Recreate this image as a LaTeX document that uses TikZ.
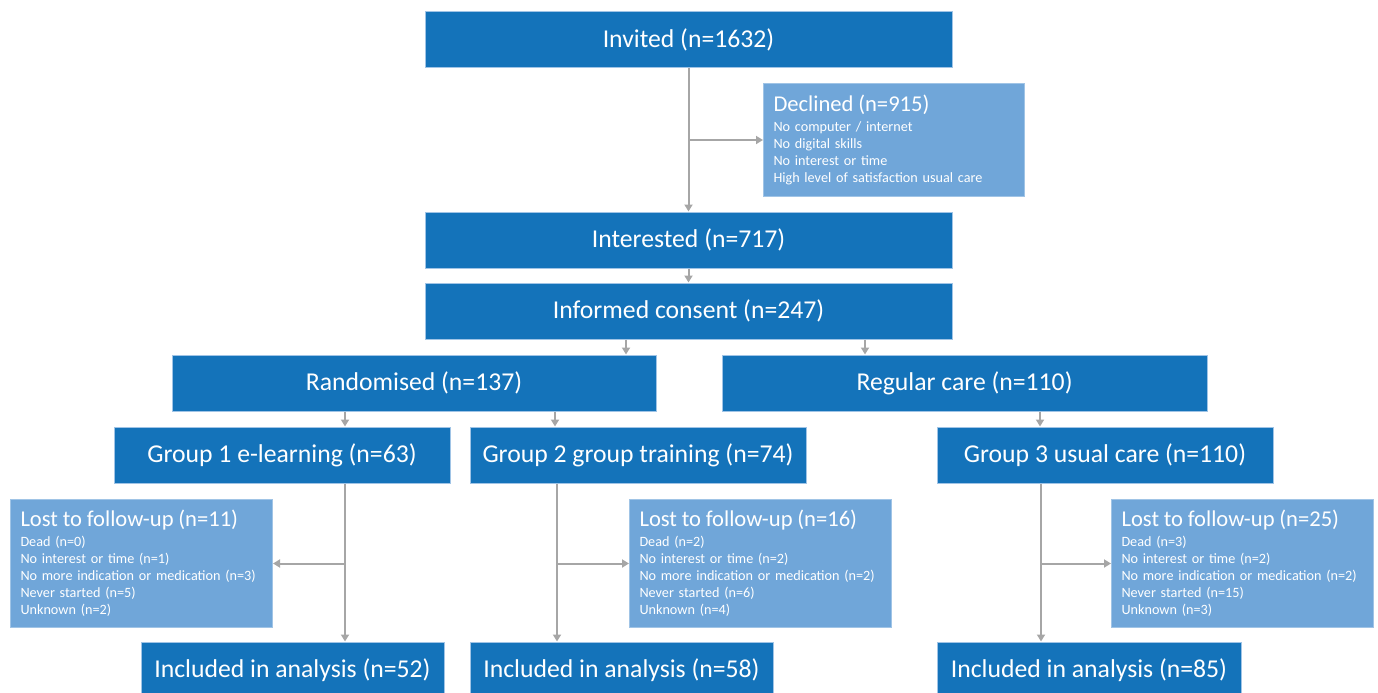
\documentclass[tikz,border=0pt]{standalone}
\usepackage{fontspec}
\setmainfont{Carlito}
\usetikzlibrary{arrows.meta}
\definecolor{boxblue}{RGB}{20,115,186}
\definecolor{noteblue}{RGB}{112,166,217}
\definecolor{edgeblue}{RGB}{160,196,230}
\definecolor{flowgray}{RGB}{166,166,166}
\tikzset{
    mainbox/.style={fill=boxblue, draw=edgeblue, line width=1pt, text=white,
        minimum height=56pt, inner sep=0pt, font=\fontsize{25.7}{30}\selectfont},
    notebox/.style={fill=noteblue, draw=edgeblue, line width=1pt, text=white,
        anchor=north west, align=left, inner xsep=10pt, inner ysep=0pt,
        font=\fontsize{14.2}{17}\selectfont},
    flow/.style={flowgray, line width=2pt},
    flowarrow/.style={flow, -{Triangle[width=8pt,length=7pt]}}
}
\newcommand{\notetitle}[1]{{\fontsize{22.6}{26}\selectfont #1}\\[3pt]}
\begin{document}
\begin{tikzpicture}[x=1pt, y=-1pt]
        \useasboundingbox (0,0) rectangle (1378,693);
        \clip (0,0) rectangle (1378,693);
        \coordinate (xa) at (626,0);
        \coordinate (xb) at (865,0);
        \coordinate (xc) at (345,0);
        \coordinate (xd) at (555,0);
        \coordinate (xe) at (1040,0);
        \coordinate (xf) at (557,0);
        \coordinate (xg) at (1041,0);
        \node (inv) [mainbox, minimum width=527pt] at (688.5,40) {Invited (n=1632)};
        \node (dec) [notebox, minimum height=113pt, text width=241pt] at (763,83)
            {\notetitle{Declined (n=915)}No computer / internet\\No digital skills\\No interest or time\\High level of satisfaction usual care};
        \node (int) [mainbox, minimum width=527pt] at (688.5,240) {Interested (n=717)};
        \node (inf) [mainbox, minimum width=527pt] at (688.5,311) {Informed consent (n=247)};
        \node (rand) [mainbox, minimum width=484pt] at (414,383) {Randomised (n=137)};
        \node (reg) [mainbox, minimum width=485pt] at (964.5,383) {Regular care (n=110)};
        \node (g1) [mainbox, minimum width=336pt] at (282,455) {Group 1 e-learning (n=63)};
        \node (g2) [mainbox, minimum width=336pt] at (638,455) {Group 2 group training (n=74)};
        \node (g3) [mainbox, minimum width=336pt] at (1105,455) {Group 3 usual care (n=110)};
        \node (lost1) [notebox, minimum height=128pt, text width=242pt] at (10,499)
            {\notetitle{Lost to follow-up (n=11)}Dead (n=0)\\No interest or time (n=1)\\No more indication or medication (n=3)\\Never started (n=5)\\Unknown (n=2)};
        \node (lost2) [notebox, minimum height=128pt, text width=242pt] at (629,499)
            {\notetitle{Lost to follow-up (n=16)}Dead (n=2)\\No interest or time (n=2)\\No more indication or medication (n=2)\\Never started (n=6)\\Unknown (n=4)};
        \node (lost3) [notebox, minimum height=128pt, text width=242pt] at (1111,499)
            {\notetitle{Lost to follow-up (n=25)}Dead (n=3)\\No interest or time (n=2)\\No more indication or medication (n=2)\\Never started (n=15)\\Unknown (n=3)};
        \node (inc1) [mainbox, minimum width=303pt] at (292.5,670) {Included in analysis (n=52)};
        \node (inc2) [mainbox, minimum width=303pt] at (621.5,670) {Included in analysis (n=58)};
        \node (inc3) [mainbox, minimum width=304pt] at (1089,670) {Included in analysis (n=85)};
        \draw 
            [flowarrow] (inv) -- (int);
        \draw 
            [flowarrow] (inv.south |- dec.west) -- (dec.west);
        \draw 
            [flowarrow] (int) -- (inf);
        \draw 
            [flowarrow] (inf.south -| xa) -- (rand.north -| xa);
        \draw 
            [flowarrow] (inf.south -| xb) -- (reg.north -| xb);
        \draw 
            [flowarrow] (rand.south -| xc) -- (g1.north -| xc);
        \draw 
            [flowarrow] (rand.south -| xd) -- (g2.north -| xd);
        \draw 
            [flowarrow] (reg.south -| xe) -- (g3.north -| xe);
        \draw 
            [flowarrow] (g1.south -| xc) -- (inc1.north -| xc);
        \draw 
            [flowarrow] (xc |- lost1.east) -- (lost1.east);
        \draw 
            [flowarrow] (g2.south -| xf) -- (inc2.north -| xf);
        \draw 
            [flowarrow] (xf |- lost2.west) -- (lost2.west);
        \draw 
            [flowarrow] (g3.south -| xg) -- (inc3.north -| xg);
        \draw 
            [flowarrow] (xg |- lost3.west) -- (lost3.west);
\end{tikzpicture}
\end{document}
